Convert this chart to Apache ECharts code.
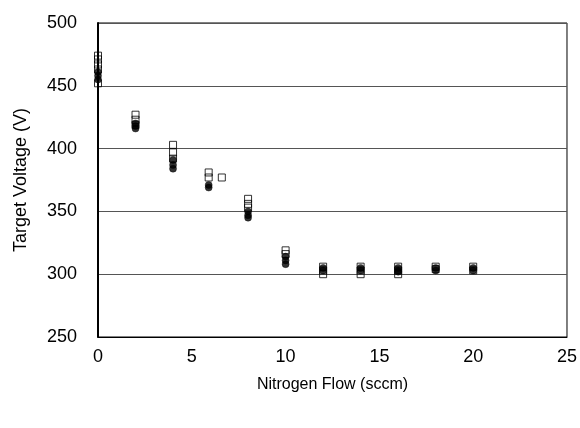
<!DOCTYPE html>
<html>
<head>
<meta charset="utf-8">
<script src="https://cdn.jsdelivr.net/npm/echarts@6/dist/echarts.min.js"></script>
<style>html,body{margin:0;padding:0;background:#fff}#c{width:580px;height:428px}</style>
</head>
<body>
<div id="c"></div>
<script>
var openX = [0,0,0,0,0, 2,2,2, 4,4,4, 5.9,5.9,6.6, 8,8,8, 10,10, 12,12,12, 14,14,14, 16,16,16, 18,18, 20,20];
var openY = [474,471,467,463,452, 427,423,419, 403,397,392, 381,377,377, 360,356,353, 319,316, 306,303,300, 306,303,300, 306,303,300, 306,304, 306,303];
var filledX = [0,0,0, 2,2,2, 4,4,4, 5.9,5.9, 8,8,8, 10,10,10, 12,12, 14,14, 16,16,16, 18,18, 20,20];
var filledY = [461,458,455, 420,418,416, 391,387,384, 371,369, 350,347,345, 314,311,308, 305,303, 305,303, 305,303,302, 305,303, 305,303];
var xTicks = [0,5,10,15,20,25];
var yTicks = [250,300,350,400,450,500];

function pairs(xs, ys){ return xs.map(function(x,i){ return [x, ys[i]]; }); }

var chart = echarts.init(document.getElementById('c'));
var font = 'Liberation Sans, Arial, sans-serif';
chart.setOption({
  animation: false,
  backgroundColor: '#fff',
  grid: { left: 98, right: 13, top: 23, bottom: 91, show: true, borderColor: '#000', borderWidth: 1, backgroundColor: 'transparent' },
  xAxis: {
    type: 'value', min: xTicks[0], max: xTicks[xTicks.length-1], interval: 5,
    name: 'Nitrogen Flow (sccm)', nameLocation: 'middle', nameGap: 40,
    nameTextStyle: { fontFamily: font, fontSize: 16, color: '#000' },
    axisLine: { show: true, lineStyle: { color: '#000', width: 1 } },
    axisTick: { show: false },
    axisLabel: { fontFamily: font, fontSize: 18, color: '#000', margin: 11 },
    splitLine: { show: false }
  },
  yAxis: {
    type: 'value', min: yTicks[0], max: yTicks[yTicks.length-1], interval: 50,
    name: 'Target Voltage (V)', nameLocation: 'middle', nameGap: 68,
    nameTextStyle: { fontFamily: font, fontSize: 18, color: '#000' },
    axisLine: { show: true, lineStyle: { color: '#000', width: 2 } },
    axisTick: { show: false },
    axisLabel: { fontFamily: font, fontSize: 18, color: '#000', margin: 21 },
    splitLine: { show: true, lineStyle: { color: '#555', width: 1 } }
  },
  series: [
    { type: 'scatter', data: pairs(openX, openY), symbol: 'rect', symbolSize: 7,
      itemStyle: { color: 'transparent', borderColor: '#000', borderWidth: 1 } },
    { type: 'scatter', data: pairs(filledX, filledY), symbol: 'circle', symbolSize: 7,
      itemStyle: { color: '#000', borderColor: '#000', borderWidth: 0.5 } }
  ]
});
</script>
</body>
</html>
